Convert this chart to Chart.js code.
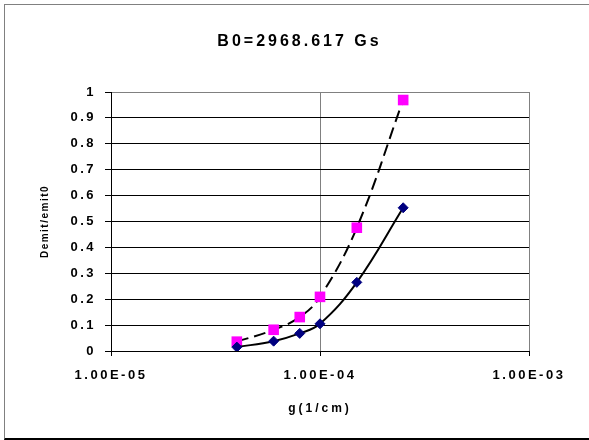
<!DOCTYPE html>
<html>
<head>
<meta charset="utf-8">
<script src="https://cdn.jsdelivr.net/npm/chart.js@4"></script>
<style>
  html, body { margin: 0; padding: 0; background: #fff; }
  #wrap { position: relative; width: 589px; height: 440px; overflow: hidden; }
  #frame {
    position: absolute; left: 4px; top: 4px; width: 620px; height: 436px;
    border-left: 1px solid #808080; border-top: 1px solid #808080;
    border-bottom: 2px solid #000; box-sizing: border-box; pointer-events: none;
  }
</style>
</head>
<body>
<div id="wrap">
  <canvas id="chart" width="589" height="440"></canvas>
  <div id="frame"></div>
</div>
<script>
// g (1/cm) values shared by both series
const gValues = [4e-5, 6e-5, 8e-5, 1e-4, 1.5e-4, 2.5e-4];
// lower curve (navy diamonds, solid line)
const diamondSeries = [0.015, 0.038, 0.068, 0.105, 0.265, 0.553];
// upper curve (magenta squares, dashed line)
const squareSeries = [0.036, 0.082, 0.131, 0.209, 0.476, 0.969];
const xTickValues = [1e-5, 1e-4, 1e-3];
const yTickValues = [0, 0.1, 0.2, 0.3, 0.4, 0.5, 0.6, 0.7, 0.8, 0.9, 1];

const FONT = 'Arial, "Liberation Sans", sans-serif';

// Excel-style scientific label, e.g. 1.00E-05
function sciLabel(v) {
  const [m, e] = v.toExponential(2).toUpperCase().split('E');
  const n = parseInt(e, 10);
  const sign = n < 0 ? '-' : '+';
  return m + 'E' + sign + String(Math.abs(n)).padStart(2, '0');
}

// wrap a draw function so it runs with its own letter spacing
function withSpacing(obj, fnName, spacing) {
  if (!obj || obj['_sp_' + fnName]) return;
  const orig = obj[fnName];
  obj[fnName] = function (...args) {
    const c = this.ctx;
    const prev = c.letterSpacing;
    c.letterSpacing = spacing;
    const r = orig.apply(this, args);
    c.letterSpacing = prev;
    return r;
  };
  obj['_sp_' + fnName] = true;
}

// Excel draws its text rather spread out
const spacingPlugin = {
  id: 'spacing',
  beforeInit(chart) { chart.ctx.letterSpacing = '2.5px'; },
  beforeUpdate(chart) { chart.ctx.letterSpacing = '2.5px'; },
  afterUpdate(chart) {
    withSpacing(chart.titleBlock, 'draw', '3px');
    withSpacing(chart.scales.x, 'drawTitle', '3px');
    withSpacing(chart.scales.y, 'drawTitle', '1.5px');
  },
  beforeDraw(chart) { chart.ctx.letterSpacing = '2.5px'; }
};

const ctx = document.getElementById('chart').getContext('2d');
new Chart(ctx, {
  type: 'line',
  data: {
    datasets: [
      {
        label: 'Demit/emit0',
        data: gValues.map((g, i) => ({ x: g, y: diamondSeries[i] })),
        borderColor: '#000000',
        borderWidth: 2,
        tension: 0.4,
        pointStyle: 'rectRot',
        pointRadius: 5,
        pointBackgroundColor: '#000080',
        pointBorderColor: '#000080',
        pointBorderWidth: 1
      },
      {
        label: 'Demit/emit0 (2)',
        data: gValues.map((g, i) => ({ x: g, y: squareSeries[i] })),
        borderColor: '#000000',
        borderWidth: 2,
        borderDash: [12, 6],
        tension: 0.4,
        pointStyle: 'rect',
        pointRadius: 7.5,
        pointBackgroundColor: '#ff00ff',
        pointBorderColor: '#ff00ff',
        pointBorderWidth: 0
      }
    ]
  },
  options: {
    responsive: false,
    animation: false,
    layout: { padding: { left: 10, right: 0, top: 0, bottom: 0 } },
    plugins: {
      legend: { display: false },
      tooltip: { enabled: false },
      title: {
        display: true,
        text: 'B0=2968.617 Gs',
        color: '#000',
        font: { family: FONT, size: 16, weight: 'bold' },
        padding: { top: 32.4, bottom: 40.4 }
      }
    },
    scales: {
      x: {
        type: 'logarithmic',
        min: 1e-5,
        max: 1e-3,
        afterBuildTicks(scale) {
          scale.ticks = xTickValues.map(v => ({ value: v, major: true }));
        },
        afterFit(scale) { scale.height = 89; },
        grid: {
          color: '#808080',
          lineWidth: 1,
          tickLength: 5,
          tickColor: '#000'
        },
        border: { color: '#000', width: 1 },
        ticks: {
          color: '#000',
          font: { family: FONT, size: 13, weight: 'bold' },
          padding: 12,
          maxRotation: 0,
          autoSkip: false,
          callback: v => sciLabel(v)
        },
        title: {
          display: true,
          text: 'g(1/cm)',
          color: '#000',
          font: { family: FONT, size: 12, weight: 'bold' },
          padding: { top: 0, bottom: 24 }
        }
      },
      y: {
        min: 0,
        max: 1,
        afterBuildTicks(scale) {
          scale.ticks = yTickValues.map(v => ({ value: v }));
        },
        afterFit(scale) { scale.width = 101; },
        grid: {
          color: c => (c.index === yTickValues.length - 1 ? '#808080' : '#000'),
          lineWidth: 1,
          tickLength: 6,
          tickColor: '#000'
        },
        border: { color: '#000', width: 1 },
        ticks: {
          color: '#000',
          font: { family: FONT, size: 13, weight: 'bold' },
          padding: 9,
          callback: v => String(+v.toFixed(1))
        },
        title: {
          display: true,
          text: 'Demit/emit0',
          color: '#000',
          font: { family: FONT, size: 10, weight: 'bold' },
          padding: { top: 29, bottom: 0 }
        }
      },
      // empty right-hand box so the plot ends where the reference's does
      y2: {
        position: 'right',
        afterFit(scale) { scale.width = 60; },
        grid: { display: false },
        border: { display: false },
        ticks: { display: false }
      }
    }
  },
  plugins: [spacingPlugin]
});
</script>
</body>
</html>
